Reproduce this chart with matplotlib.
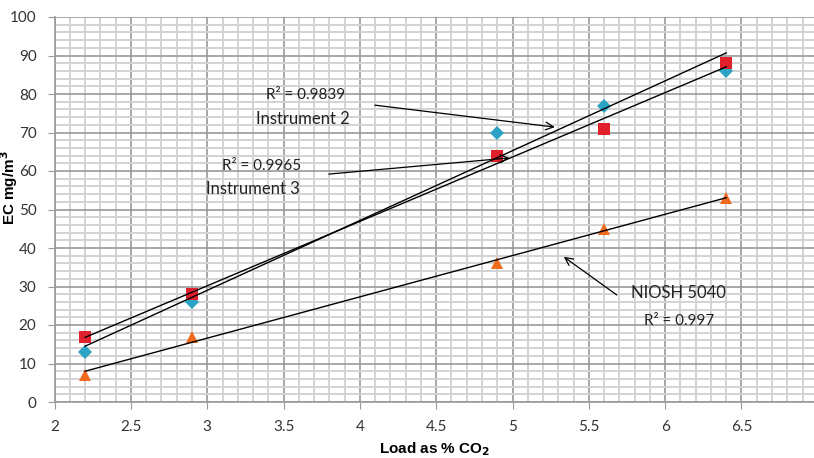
import numpy as np
import matplotlib
matplotlib.use("Agg")
import matplotlib.pyplot as plt
from matplotlib.ticker import MultipleLocator

plt.rcParams['font.family'] = ['Lato', 'DejaVu Sans']

load_co2 = [2.2, 2.9, 4.9, 5.6, 6.4]
instrument2 = [13, 26, 70, 77, 86]
instrument3 = [17, 28, 64, 71, 88]
niosh5040 = [7, 17, 36, 45, 53]

x_ticks = [2, 2.5, 3, 3.5, 4, 4.5, 5, 5.5, 6, 6.5]
x_tick_labels = ['2', '2.5', '3', '3.5', '4', '4.5', '5', '5.5', '6', '6.5']
y_ticks = list(range(0, 101, 10))

fig = plt.figure(figsize=(8.14, 4.58), dpi=100)
ax = fig.add_axes([54.6 / 814, (458 - 402) / 458, (814 - 54.6) / 814, (402 - 17) / 458])

x = np.array(load_co2)
series = [
    (instrument2, 'D', '#2AA3C4', 7.5),
    (instrument3, 's', '#E0202B', 8.5),
    (niosh5040, '^', '#F06A1E', 8.5),
]
for ys, m, c, ms in series:
    ys = np.array(ys)
    ax.plot(x, ys, linestyle='none', marker=m, color=c, markersize=ms, zorder=3,
            markeredgewidth=0)
    k, b = np.polyfit(x, ys, 1)
    xx = np.array([x.min(), x.max()])
    ax.plot(xx, k * xx + b, color='black', lw=1.0, zorder=4)

ax.set_xlim(2, 6.975)
ax.set_ylim(0, 100)
ax.set_xticks(x_ticks)
ax.set_xticklabels(x_tick_labels)
ax.set_yticks(y_ticks)
ax.xaxis.set_minor_locator(MultipleLocator(0.1))
ax.yaxis.set_minor_locator(MultipleLocator(2))
ax.grid(which='minor', color='#d3d3d3', lw=1.4, zorder=0)
ax.grid(which='major', color='#9a9a9a', lw=1.2, zorder=1)
ax.set_axisbelow(True)
for s in ['top', 'right']:
    ax.spines[s].set_visible(False)
for s in ['left', 'bottom']:
    ax.spines[s].set_color('#9a9a9a')
    ax.spines[s].set_linewidth(1.2)
ax.tick_params(which='major', length=5, color='#9a9a9a', labelsize=11, labelcolor='#333333', pad=8)
ax.tick_params(which='minor', length=0)

ax.set_ylabel('EC mg/m$^\\mathbf{3}$', fontsize=11, fontweight='bold',
              family=['Liberation Sans Narrow', 'Liberation Sans', 'DejaVu Sans'])
ax.yaxis.set_label_coords(-0.045, 0.558)
ax.set_xlabel('Load as % CO$_\\mathbf{2}$', fontsize=11, fontweight='bold',
              family=['Liberation Sans Narrow', 'Liberation Sans', 'DejaVu Sans'])
ax.xaxis.set_label_coords(0.5, -0.1)

tc = '#222222'
fs = 11
ax.text(3.383, 79.7, 'R² = 0.9839', fontsize=fs, color=tc, va='center', ha='left')
ax.text(3.32, 73.5, 'Instrument 2', fontsize=fs + 1, color=tc, va='center', ha='left')
ax.text(3.096, 61.3, 'R² = 0.9965', fontsize=fs, color=tc, va='center', ha='left')
ax.text(2.99, 55.3, 'Instrument 3', fontsize=fs + 1, color=tc, va='center', ha='left')
ax.text(5.774, 28.3, 'NIOSH 5040', fontsize=fs + 1, color=tc, va='center', ha='left')
ax.text(5.86, 21.0, 'R² = 0.997', fontsize=fs, color=tc, va='center', ha='left')

arrow = dict(arrowstyle='->', color='black', lw=0.9, mutation_scale=14, shrinkA=0, shrinkB=0)
ax.annotate('', xy=(5.277, 71.4), xytext=(4.098, 77.1), arrowprops=arrow)
ax.annotate('', xy=(4.98, 63.4), xytext=(3.797, 59.2), arrowprops=arrow)
ax.annotate('', xy=(5.336, 37.7), xytext=(5.683, 27.8), arrowprops=arrow)

fig.savefig('out.png', dpi=100)
